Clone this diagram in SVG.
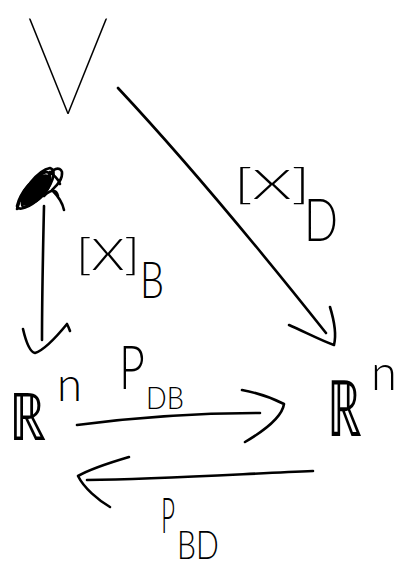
<svg xmlns="http://www.w3.org/2000/svg" width="399" height="568" viewBox="0 0 399 568">
  <style>
    .ink { fill: none; stroke: #000; stroke-width: 2.6; stroke-linecap: round; stroke-linejoin: round; }
    .txt { font-family: "Lato", "DejaVu Sans", sans-serif; font-weight: 300; fill: #000; }
    .big { font-weight: 100; }
    .bb { font-family: "DejaVu Sans", sans-serif; font-weight: 200; }
  </style>
  <rect width="399" height="568" fill="#fff"/>

  <!-- vector space V -->
  <g id="node-V">
    <text class="txt big" x="26" y="114" font-size="136" textLength="84" lengthAdjust="spacingAndGlyphs">V</text>
  </g>

  <!-- left coordinate space R^n -->
  <g id="node-Rn-left">
    <text class="txt"><tspan class="bb" x="9" y="440" font-size="66" textLength="37" lengthAdjust="spacingAndGlyphs">ℝ</tspan><tspan x="57" y="401" font-size="48" textLength="25" lengthAdjust="spacingAndGlyphs">n</tspan></text>
  </g>

  <!-- right coordinate space R^n (narrowed glyphs) -->
  <g id="node-Rn-right">
    <text class="txt bb" transform="translate(327 436) scale(0.636 1)" font-size="78" textLength="55" lengthAdjust="spacingAndGlyphs">ℝ</text>
    <text class="txt" transform="translate(371 390) scale(0.94 1)" font-size="50" textLength="27.5" lengthAdjust="spacingAndGlyphs">n</text>
  </g>

  <!-- edge labels -->
  <g id="label-XB">
    <text class="txt"><tspan x="76" y="270" font-size="44" textLength="64" lengthAdjust="spacingAndGlyphs">[X]</tspan><tspan x="140" y="298" font-size="52" textLength="24" lengthAdjust="spacingAndGlyphs">B</tspan></text>
  </g>
  <g id="label-XD">
    <text class="txt"><tspan x="234" y="199" font-size="42" textLength="76" lengthAdjust="spacingAndGlyphs">[X]</tspan><tspan x="304" y="241" font-size="60" textLength="34" lengthAdjust="spacingAndGlyphs">D</tspan></text>
  </g>
  <g id="label-PDB">
    <text class="txt" transform="translate(119 389) scale(0.68 1)" font-size="62" textLength="38" lengthAdjust="spacingAndGlyphs">P</text>
    <text class="txt" transform="translate(146 409) scale(0.86 1)" font-size="32" textLength="44" lengthAdjust="spacingAndGlyphs">DB</text>
  </g>
  <g id="label-PBD">
    <text class="txt" transform="translate(161 533) scale(0.5 1)" font-size="50" textLength="28" lengthAdjust="spacingAndGlyphs">P</text>
    <text class="txt" transform="translate(177 559) scale(0.82 1)" font-size="40" textLength="51" lengthAdjust="spacingAndGlyphs">BD</text>
  </g>

  <!-- connectors -->
  <g id="connectors">
    <!-- scribbled-out tail of the vertical arrow -->
    <g id="scribble">
      <path d="M17,209 C22,190 38,170 50,168 C58,170 52,186 40,198 C30,207 18,212 17,206 C20,192 34,176 46,172 C54,172 50,186 36,200 C28,206 22,210 22,204 C26,192 40,178 48,176" class="ink" stroke-width="3"/>
      <ellipse cx="36" cy="190" rx="20" ry="10" transform="rotate(-45 36 190)" fill="#000"/>
      <path d="M48,178 C52,168 60,166 62,172 C63,180 56,186 52,190 C56,194 62,200 64,210 M50,172 C54,176 58,178 60,184 M44,196 C50,190 56,188 58,196" class="ink" stroke-width="2.2"/>
    </g>
    <!-- V -> left R^n via [X]_B -->
    <path id="edge-XB" class="ink" d="M44,206 C43,250 42,300 42,340"/>
    <path class="ink" d="M23,329 C26,342 30,352 35,353 C45,350 58,335 67,324 C68,326 69,328 70,331"/>
    <!-- V -> right R^n via [X]_D -->
    <path id="edge-XD" class="ink" d="M118,88 C190,165 260,250 326,333"/>
    <path class="ink" d="M289,325 C305,332 322,341 334,345 C337,333 334,320 330,307"/>
    <!-- left R^n -> right R^n : P_DB -->
    <path id="edge-PDB" class="ink" d="M77,425 C130,418 200,413 260,413"/>
    <path class="ink" d="M242,390 C258,393 272,398 284,404 C282,418 262,432 245,442"/>
    <!-- right R^n -> left R^n : P_BD -->
    <path id="edge-PBD" class="ink" d="M313,471 C240,474 160,479 87,480"/>
    <path class="ink" d="M129,457 C112,462 92,468 78,476 C84,488 98,500 110,507"/>
  </g>
</svg>
